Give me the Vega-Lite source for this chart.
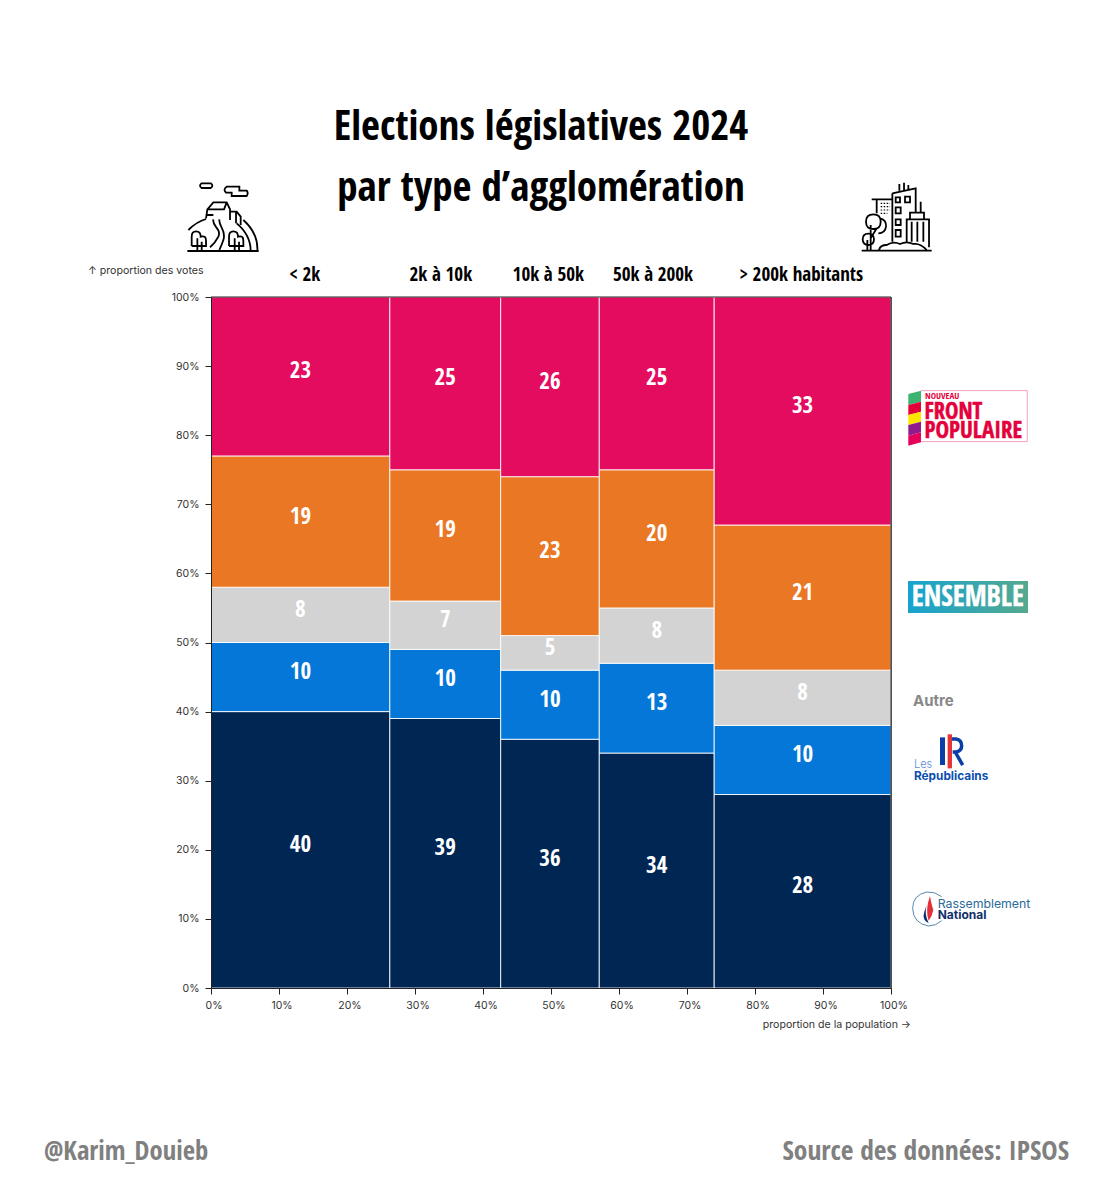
{"$schema":"https://vega.github.io/schema/vega-lite/v6.json","width":680,"height":691,"autosize":"none","padding":{"left":211,"top":297,"right":212,"bottom":212},"background":"#ffffff","view":{"stroke":"#222222"},
"data":{"values":[{}]},
"config":{"text":{"font":"Inter"},"point":{"opacity":1}},
"datasets":{"cells":[
{"tranche":"< 2k","parti":"Rassemblement National","valeur":40,"x0":0,"x1":26.3,"y0":0,"y1":40,"xm":13.15,"ym":20},
{"tranche":"< 2k","parti":"Les Républicains","valeur":10,"x0":0,"x1":26.3,"y0":40,"y1":50,"xm":13.15,"ym":45},
{"tranche":"< 2k","parti":"Autre","valeur":8,"x0":0,"x1":26.3,"y0":50,"y1":58,"xm":13.15,"ym":54},
{"tranche":"< 2k","parti":"Ensemble","valeur":19,"x0":0,"x1":26.3,"y0":58,"y1":77,"xm":13.15,"ym":67.5},
{"tranche":"< 2k","parti":"Nouveau Front Populaire","valeur":23,"x0":0,"x1":26.3,"y0":77,"y1":100,"xm":13.15,"ym":88.5},
{"tranche":"2k à 10k","parti":"Rassemblement National","valeur":39,"x0":26.3,"x1":42.6,"y0":0,"y1":39,"xm":34.45,"ym":19.5},
{"tranche":"2k à 10k","parti":"Les Républicains","valeur":10,"x0":26.3,"x1":42.6,"y0":39,"y1":49,"xm":34.45,"ym":44},
{"tranche":"2k à 10k","parti":"Autre","valeur":7,"x0":26.3,"x1":42.6,"y0":49,"y1":56,"xm":34.45,"ym":52.5},
{"tranche":"2k à 10k","parti":"Ensemble","valeur":19,"x0":26.3,"x1":42.6,"y0":56,"y1":75,"xm":34.45,"ym":65.5},
{"tranche":"2k à 10k","parti":"Nouveau Front Populaire","valeur":25,"x0":26.3,"x1":42.6,"y0":75,"y1":100,"xm":34.45,"ym":87.5},
{"tranche":"10k à 50k","parti":"Rassemblement National","valeur":36,"x0":42.6,"x1":57.1,"y0":0,"y1":36,"xm":49.85,"ym":18},
{"tranche":"10k à 50k","parti":"Les Républicains","valeur":10,"x0":42.6,"x1":57.1,"y0":36,"y1":46,"xm":49.85,"ym":41},
{"tranche":"10k à 50k","parti":"Autre","valeur":5,"x0":42.6,"x1":57.1,"y0":46,"y1":51,"xm":49.85,"ym":48.5},
{"tranche":"10k à 50k","parti":"Ensemble","valeur":23,"x0":42.6,"x1":57.1,"y0":51,"y1":74,"xm":49.85,"ym":62.5},
{"tranche":"10k à 50k","parti":"Nouveau Front Populaire","valeur":26,"x0":42.6,"x1":57.1,"y0":74,"y1":100,"xm":49.85,"ym":87},
{"tranche":"50k à 200k","parti":"Rassemblement National","valeur":34,"x0":57.1,"x1":74,"y0":0,"y1":34,"xm":65.55,"ym":17},
{"tranche":"50k à 200k","parti":"Les Républicains","valeur":13,"x0":57.1,"x1":74,"y0":34,"y1":47,"xm":65.55,"ym":40.5},
{"tranche":"50k à 200k","parti":"Autre","valeur":8,"x0":57.1,"x1":74,"y0":47,"y1":55,"xm":65.55,"ym":51},
{"tranche":"50k à 200k","parti":"Ensemble","valeur":20,"x0":57.1,"x1":74,"y0":55,"y1":75,"xm":65.55,"ym":65},
{"tranche":"50k à 200k","parti":"Nouveau Front Populaire","valeur":25,"x0":57.1,"x1":74,"y0":75,"y1":100,"xm":65.55,"ym":87.5},
{"tranche":"> 200k","parti":"Rassemblement National","valeur":28,"x0":74,"x1":100,"y0":0,"y1":28,"xm":87,"ym":14},
{"tranche":"> 200k","parti":"Les Républicains","valeur":10,"x0":74,"x1":100,"y0":28,"y1":38,"xm":87,"ym":33},
{"tranche":"> 200k","parti":"Autre","valeur":8,"x0":74,"x1":100,"y0":38,"y1":46,"xm":87,"ym":42},
{"tranche":"> 200k","parti":"Ensemble","valeur":21,"x0":74,"x1":100,"y0":46,"y1":67,"xm":87,"ym":56.5},
{"tranche":"> 200k","parti":"Nouveau Front Populaire","valeur":33,"x0":74,"x1":100,"y0":67,"y1":100,"xm":87,"ym":83.5}
],
"heads":[{"label":"< 2k","pos":13.8},{"label":"2k à 10k","pos":33.8},{"label":"10k à 50k","pos":49.6},{"label":"50k à 200k","pos":65},{"label":"> 200k  habitants","pos":86.8}]},
"layer":[
{"data":{"name":"cells"},"mark":{"type":"rect","stroke":"#ffffff","strokeWidth":1,"strokeOpacity":0.85},
"encoding":{"x":{"field":"x0","type":"quantitative","scale":{"domain":[0,100],"nice":false},"axis":{"values":[0,10,20,30,40,50,60,70,80,90,100],"labelExpr":"datum.value+'%'","title":null,"grid":false,"zindex":1,"labelFont":"Inter","labelFontSize":10.5,"labelColor":"#333333","labelOffset":2.5,"labelPadding":6,"labelFlush":false,"labelOverlap":false,"labelBound":false,"tickColor":"#222222","tickSize":6,"domainColor":"#222222"}},"x2":{"field":"x1"},
"y":{"field":"y0","type":"quantitative","scale":{"domain":[0,100],"nice":false},"axis":{"values":[0,10,20,30,40,50,60,70,80,90,100],"labelExpr":"datum.value+'%'","title":null,"grid":false,"zindex":1,"labelFont":"Inter","labelFontSize":10.5,"labelColor":"#333333","labelPadding":6,"tickColor":"#222222","tickSize":6,"domainColor":"#222222"}},"y2":{"field":"y1"},
"color":{"field":"parti","type":"nominal","legend":null,"scale":{"domain":["Rassemblement National","Les Républicains","Autre","Ensemble","Nouveau Front Populaire"],"range":["#002654","#0477D8","#D3D3D3","#E97724","#E40C5F"]}}}},
{"mark":{"type":"rule","color":"#222222","strokeWidth":1},"encoding":{"x":{"datum":100,"type":"quantitative"}}},
{"mark":{"type":"rule","color":"#222222","strokeWidth":1},"encoding":{"y":{"datum":100,"type":"quantitative"}}},
{"data":{"name":"cells"},"mark":{"type":"text","font":"Open Sans Condensed","fontWeight":"bold","fontSize":23,"color":"#ffffff","dy":-5},
"encoding":{"x":{"field":"xm","type":"quantitative"},"y":{"field":"ym","type":"quantitative"},"text":{"field":"valeur","type":"nominal"}}},
{"data":{"name":"heads"},"mark":{"type":"text","font":"Open Sans Condensed","fontWeight":"bold","fontSize":19,"color":"#000000"},
"encoding":{"x":{"field":"pos","type":"quantitative"},"y":{"datum":103.18,"type":"quantitative"},"text":{"field":"label","type":"nominal"}}},
{"mark":{"type":"text","text":"Elections législatives 2024","font":"Open Sans Condensed","fontWeight":"bold","fontSize":41,"color":"#000000"},"encoding":{"x":{"datum":48.53,"type":"quantitative"},"y":{"datum":124.4,"type":"quantitative"}}},
{"mark":{"type":"text","text":"par type d’agglomération","font":"Open Sans Condensed","fontWeight":"bold","fontSize":41,"color":"#000000"},"encoding":{"x":{"datum":48.53,"type":"quantitative"},"y":{"datum":115.6,"type":"quantitative"}}},
{"mark":{"type":"text","text":"↑ proportion des votes","font":"Inter","fontSize":10.6,"color":"#333333","align":"left"},"encoding":{"x":{"datum":-18.09,"type":"quantitative"},"y":{"datum":103.75,"type":"quantitative"}}},
{"mark":{"type":"text","text":"proportion de la population →","font":"Inter","fontSize":10.6,"color":"#333333","align":"right"},"encoding":{"x":{"datum":102.94,"type":"quantitative"},"y":{"datum":-5.35,"type":"quantitative"}}},
{"mark":{"type":"text","text":"@Karim_Douieb","font":"Open Sans Condensed","fontWeight":"bold","fontSize":26.7,"color":"#808080","align":"left"},"encoding":{"x":{"datum":-24.56,"type":"quantitative"},"y":{"datum":-23.73,"type":"quantitative"}}},
{"mark":{"type":"text","text":"Source des données: IPSOS","font":"Open Sans Condensed","fontWeight":"bold","fontSize":27.5,"color":"#808080","align":"right"},"encoding":{"x":{"datum":126.18,"type":"quantitative"},"y":{"datum":-23.73,"type":"quantitative"}}},
{"mark":{"type":"point","shape":"M322 243H536M365 40H392Q402 47 392 54H365Q355 47 365 40ZM440 50H478V62H500Q506 70 500 78H455V68H438Q428 58 440 50ZM325 180Q350 155 378 147M490 150Q535 190 532 243M470 160Q512 195 512 243M378 145L382 118L400 97H440L450 118V150M382 118H432L440 97M382 135H400M450 125H470L482 140V165M468 125V160M400 148C395 170 425 175 415 200Q405 220 390 232M418 148C415 170 440 180 430 210Q425 225 418 240M335 228V200Q335 184 348 184Q362 184 362 200Q378 195 378 212V228H335M352 243V205M365 243V215M447 228V200Q447 184 460 184Q474 184 474 200Q490 195 490 212V228H447M464 243V205M477 243V215","size":0.4444,"filled":false,"stroke":"#000000","strokeWidth":1.8,"opacity":1},"encoding":{"x":{"datum":-19.26,"type":"quantitative"},"y":{"datum":118.38,"type":"quantitative"}}},
{"mark":{"type":"point","shape":"M245 242H455M275 88H335M290 88V130M337 70L407 55V130M337 70V215M358 62V42M372 60V38M385 58V45M347 82H360V97H347ZM375 80H390V97H375ZM347 112H362V130H347ZM347 148H362V165H347ZM347 180H362V200H347ZM380 215V148H447V232M390 148V128H432V148M422 128V95M395 155V215M412 155V215M430 155V215M258 155Q258 133 280 133Q302 133 302 155Q302 177 280 177Q258 177 258 155ZM300 145Q320 150 318 170Q315 190 295 190M248 208Q248 191 265 191Q282 191 282 208Q282 225 265 225Q248 225 248 208ZM272 240V165M272 205L290 175M262 240V210M297 240Q300 225 320 225Q340 212 360 222Q380 212 400 222Q420 218 440 240","size":0.4444,"filled":false,"stroke":"#000000","strokeWidth":1.8,"opacity":1},"encoding":{"x":{"datum":83.68,"type":"quantitative"},"y":{"datum":118.38,"type":"quantitative"}}},
{"mark":{"type":"point","shape":"M302 100H330M302 110H330M302 120H330M302 130H322","size":0.4444,"filled":false,"stroke":"#000000","strokeWidth":1.2,"strokeDash":[1.5,1.5],"opacity":1},"encoding":{"x":{"datum":83.68,"type":"quantitative"},"y":{"datum":118.38,"type":"quantitative"}}},
{"mark":{"type":"point","shape":"M123 62H442V215H123","size":0.4444,"filled":false,"stroke":"#F5A0BC","strokeWidth":1,"opacity":1},"encoding":{"x":{"datum":98.38,"type":"quantitative"},"y":{"datum":89.44,"type":"quantitative"}}},
{"mark":{"type":"point","shape":"M85 72L123 62V95L85 105Z","size":0.4444,"filled":true,"color":"#3CB371","opacity":1},"encoding":{"x":{"datum":98.38,"type":"quantitative"},"y":{"datum":89.44,"type":"quantitative"}}},
{"mark":{"type":"point","shape":"M85 105L123 95V125L85 135Z","size":0.4444,"filled":true,"color":"#E4003A","opacity":1},"encoding":{"x":{"datum":98.38,"type":"quantitative"},"y":{"datum":89.44,"type":"quantitative"}}},
{"mark":{"type":"point","shape":"M85 135L123 125V155L85 165Z","size":0.4444,"filled":true,"color":"#FFE600","opacity":1},"encoding":{"x":{"datum":98.38,"type":"quantitative"},"y":{"datum":89.44,"type":"quantitative"}}},
{"mark":{"type":"point","shape":"M85 165L123 155V187L85 197Z","size":0.4444,"filled":true,"color":"#8E1C8E","opacity":1},"encoding":{"x":{"datum":98.38,"type":"quantitative"},"y":{"datum":89.44,"type":"quantitative"}}},
{"mark":{"type":"point","shape":"M85 197L123 187V217L85 227Z","size":0.4444,"filled":true,"color":"#E5005B","opacity":1},"encoding":{"x":{"datum":98.38,"type":"quantitative"},"y":{"datum":89.44,"type":"quantitative"}}},
{"mark":{"type":"text","text":"NOUVEAU","font":"Open Sans Condensed","fontWeight":"bold","fontSize":9,"color":"#E4003A","align":"left","baseline":"alphabetic"},"encoding":{"x":{"datum":105,"type":"quantitative"},"y":{"datum":85.17,"type":"quantitative"}}},
{"mark":{"type":"text","text":"FRONT","font":"Open Sans Condensed","fontWeight":"bold","fontSize":22.5,"stroke":"#E4003A","strokeWidth":0.5,"color":"#E4003A","align":"left","baseline":"alphabetic"},"encoding":{"x":{"datum":104.94,"type":"quantitative"},"y":{"datum":82.34,"type":"quantitative"}}},
{"mark":{"type":"text","text":"POPULAIRE","font":"Open Sans Condensed","fontWeight":"bold","fontSize":22.8,"stroke":"#E4003A","strokeWidth":0.5,"color":"#E4003A","align":"left","baseline":"alphabetic"},"encoding":{"x":{"datum":104.94,"type":"quantitative"},"y":{"datum":79.6,"type":"quantitative"}}},
{"mark":{"type":"rect","color":{"gradient":"linear","x1":0,"y1":0,"x2":1,"y2":0,"stops":[{"offset":0,"color":"#16A3CF"},{"offset":1,"color":"#55A98F"}]}},"encoding":{"x":{"datum":102.5,"type":"quantitative"},"x2":{"datum":120.15},"y":{"datum":58.9,"type":"quantitative"},"y2":{"datum":54.27}}},
{"mark":{"type":"text","text":"ENSEMBLE","font":"Open Sans Condensed","fontWeight":"bold","fontSize":28,"stroke":"#ffffff","strokeWidth":0.4,"color":"#ffffff"},"encoding":{"x":{"datum":111.3,"type":"quantitative"},"y":{"datum":56.5,"type":"quantitative"}}},
{"mark":{"type":"text","text":"Autre","font":"Inter","fontWeight":"bold","fontSize":15,"color":"#888888","align":"left"},"encoding":{"x":{"datum":103.24,"type":"quantitative"},"y":{"datum":41.55,"type":"quantitative"}}},
{"mark":{"type":"point","shape":"M180 172H195V255H180Z","size":0.4444,"filled":true,"color":"#0B3FA8","opacity":1},"encoding":{"x":{"datum":98.38,"type":"quantitative"},"y":{"datum":44.57,"type":"quantitative"}}},
{"mark":{"type":"point","shape":"M203 163H216V265H203Z","size":0.4444,"filled":true,"color":"#E5343A","opacity":1},"encoding":{"x":{"datum":98.38,"type":"quantitative"},"y":{"datum":44.57,"type":"quantitative"}}},
{"mark":{"type":"point","shape":"M216 177H228Q245 180 245 197Q245 213 228 216H218M226 216L248 255","size":0.4444,"filled":false,"stroke":"#0B3FA8","strokeWidth":3.5,"opacity":1},"encoding":{"x":{"datum":98.38,"type":"quantitative"},"y":{"datum":44.57,"type":"quantitative"}}},
{"mark":{"type":"text","text":"Les","font":"Inter","fontWeight":300,"fontSize":11,"color":"#5B8BD8","align":"left","baseline":"alphabetic"},"encoding":{"x":{"datum":103.38,"type":"quantitative"},"y":{"datum":31.9,"type":"quantitative"}}},
{"mark":{"type":"text","text":"Républicains","font":"Inter","fontWeight":"bold","fontSize":11.8,"color":"#0B4FB0","align":"left","baseline":"alphabetic"},"encoding":{"x":{"datum":103.38,"type":"quantitative"},"y":{"datum":30.1,"type":"quantitative"}}},
{"mark":{"type":"point","shape":"M185 650Q165 634 140 636Q98 645 98 686Q100 730 145 738Q168 738 185 722","size":0.4444,"filled":false,"stroke":"#2A6A9A","strokeWidth":0.8,"opacity":1},"encoding":{"x":{"datum":98.38,"type":"quantitative"},"y":{"datum":44.57,"type":"quantitative"}}},
{"mark":{"type":"point","shape":"M150 648Q155 675 160 690Q157 708 146 722Q135 690 150 648Z","size":0.4444,"filled":true,"color":"#E4303A","opacity":1},"encoding":{"x":{"datum":98.38,"type":"quantitative"},"y":{"datum":44.57,"type":"quantitative"}}},
{"mark":{"type":"point","shape":"M140 675Q132 700 146 730Q125 720 133 695Z","size":0.4444,"filled":true,"color":"#10306A","opacity":1},"encoding":{"x":{"datum":98.38,"type":"quantitative"},"y":{"datum":44.57,"type":"quantitative"}}},
{"mark":{"type":"text","text":"Rassemblement","font":"Inter","fontSize":12.3,"color":"#2A6A9A","align":"left","baseline":"alphabetic"},"encoding":{"x":{"datum":106.87,"type":"quantitative"},"y":{"datum":11.62,"type":"quantitative"}}},
{"mark":{"type":"text","text":"National","font":"Inter","fontWeight":"bold","fontSize":12,"color":"#10306A","align":"left","baseline":"alphabetic"},"encoding":{"x":{"datum":106.87,"type":"quantitative"},"y":{"datum":10.03,"type":"quantitative"}}}
]}
